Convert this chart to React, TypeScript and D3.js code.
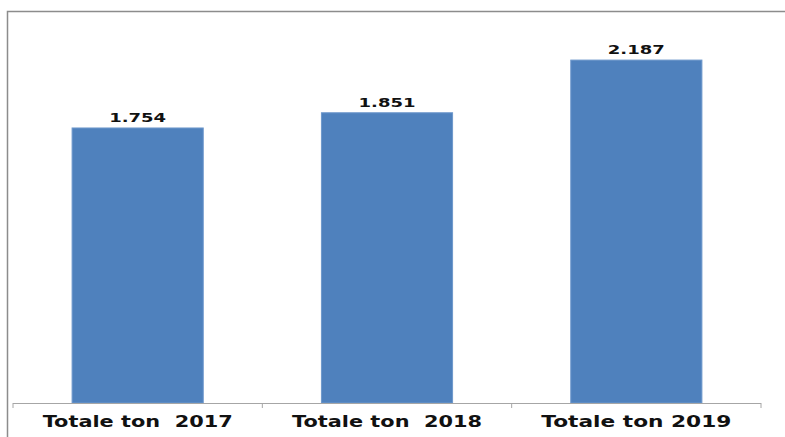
import React from "react";
import * as d3 from "d3";

const categories = ["Totale ton  2017", "Totale ton  2018", "Totale ton 2019"];
const values = [1754, 1851, 2187];
const valueLabels = ["1.754", "1.851", "2.187"];

const W = 785;
const H = 437;

export default function App() {
  const x = d3.scaleBand<string>().domain(categories).range([13, 761]).paddingInner(0.474).paddingOuter(0.237);
  const y = d3.scaleLinear().domain([0, 2500]).range([403, 11]);
  const ticks = d3.range(categories.length + 1).map((i) => 13 + (i * (761 - 13)) / categories.length);
  return (
    <svg width={W} height={H} style={{ position: "absolute", left: 0, top: 0 }}>
      <rect x={0} y={0} width={W} height={H} fill="#fff" />
      <rect x={7.5} y={11.5} width={W + 20} height={H + 20} fill="none" stroke="#8c8c8c" strokeWidth={1.5} />
      {categories.map((c, i) => (
        <rect key={c} x={x(c)} y={y(values[i])} width={x.bandwidth()} height={y(0) - y(values[i])} fill="#4F81BD" stroke="#6e98cc" strokeWidth={1} />
      ))}
      <line x1={13} x2={761} y1={403.5} y2={403.5} stroke="#a6a6a6" strokeWidth={1} />
      {ticks.map((t, i) => (
        <line key={i} x1={t} x2={t} y1={403} y2={408} stroke="#a6a6a6" strokeWidth={1} />
      ))}
      {categories.map((c, i) => (
        <text key={"v" + c} x={x(c)! + x.bandwidth() / 2} y={y(values[i]) - 6} textAnchor="middle" fontFamily="DejaVu Sans" fontWeight="bold" fontSize={13} textLength={57} lengthAdjust="spacingAndGlyphs" fill="#111">
          {valueLabels[i]}
        </text>
      ))}
      {categories.map((c) => (
        <text key={"c" + c} x={x(c)! + x.bandwidth() / 2} y={427} textAnchor="middle" fontFamily="DejaVu Sans" fontWeight="bold" fontSize={15.5} textLength={190} lengthAdjust="spacingAndGlyphs" fill="#111" style={{ whiteSpace: "pre" }}>
          {c}
        </text>
      ))}
    </svg>
  );
}
